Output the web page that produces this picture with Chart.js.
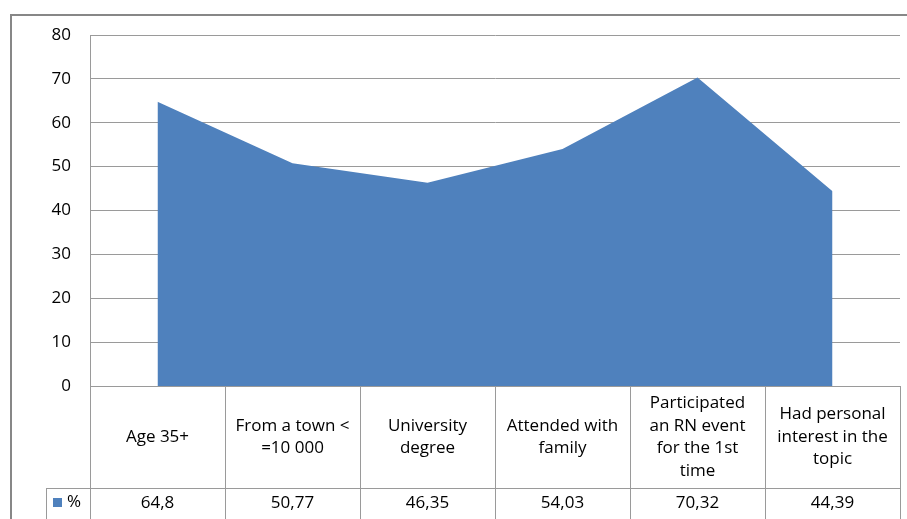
<!DOCTYPE html>
<html lang="en">

<head>
    <meta charset="UTF-8">
    <title>Visitor profile</title>
    <style>
        body {
            margin: 0;
            background: #fff;
        }
    </style>
    <script src="https://cdn.jsdelivr.net/npm/chart.js"></script>
</head>

<body>
    <canvas id="chart" width="907" height="519"></canvas>
</body>
<script>
    // chart data
    const categories = [
        ["Age 35+"],
        ["From a town <", "=10 000"],
        ["University", "degree"],
        ["Attended with", "family"],
        ["Participated", "an RN event", "for the 1st", "time"],
        ["Had personal", "interest in the", "topic"]
    ];
    const seriesName = "%";
    const values = [64.8, 50.77, 46.35, 54.03, 70.32, 44.39];
    const yTicks = [0, 10, 20, 30, 40, 50, 60, 70, 80];

    const FONT = "17px 'Open Sans'";
    const BLUE = "#4F81BD";
    const LINE = "#9a9a9a";

    // frame + data table under the plot
    const tablePlugin = {
        id: "dataTable",
        beforeDraw(chart) {
            const c = chart.ctx;
            c.save();
            c.strokeStyle = "#878787";
            c.lineWidth = 2;
            c.beginPath();
            c.moveTo(11, 519);
            c.lineTo(11, 15);
            c.lineTo(907, 15);
            c.stroke();
            c.restore();
        },
        afterDraw(chart) {
            const c = chart.ctx;
            const xs = chart.scales.x;
            const area = chart.chartArea;
            const half = (xs.getPixelForValue(1) - xs.getPixelForValue(0)) / 2;
            const top = area.bottom;
            const rowY = top + 102;
            const bottom = chart.height;

            c.save();
            c.strokeStyle = LINE;
            c.lineWidth = 1;
            c.beginPath();
            // horizontal lines
            c.moveTo(area.left, top + 0.5);
            c.lineTo(area.right, top + 0.5);
            c.moveTo(46, rowY + 0.5);
            c.lineTo(area.right, rowY + 0.5);
            // legend cell left edge
            c.moveTo(46.5, rowY);
            c.lineTo(46.5, bottom);
            // column lines
            for (let i = 0; i <= categories.length; i++) {
                const x = Math.round(xs.getPixelForValue(0) - half + i * 2 * half) + 0.5;
                c.moveTo(x, top);
                c.lineTo(x, bottom);
            }
            c.stroke();

            c.fillStyle = "#000";
            c.font = FONT;
            c.textAlign = "center";
            c.textBaseline = "middle";
            const lh = 22.5;
            const mid = (top + rowY) / 2;
            categories.forEach((lines, i) => {
                const x = xs.getPixelForValue(i);
                const y0 = mid - (lines.length - 1) * lh / 2;
                lines.forEach((t, j) => c.fillText(t, x, y0 + j * lh));
                c.fillText(String(values[i]).replace(".", ","), x, rowY + 15);
            });

            // legend key
            c.fillStyle = BLUE;
            c.fillRect(53, rowY + 10, 9, 9);
            c.fillStyle = "#000";
            c.textAlign = "left";
            c.fillText(seriesName, 67, rowY + 14);
            c.restore();
        }
    };

    const ctx = document.getElementById("chart");

    const chart = new Chart(ctx, {
        type: "line",
        data: {
            labels: categories.map(l => l.join(" ")),
            datasets: [{
                label: seriesName,
                data: values,
                fill: "origin",
                backgroundColor: BLUE,
                borderWidth: 0,
                pointRadius: 0,
                tension: 0
            }]
        },
        options: {
            responsive: false,
            animation: false,
            layout: {
                padding: { left: 0, right: 7, top: 35, bottom: 133 }
            },
            plugins: {
                legend: { display: false },
                tooltip: { enabled: false }
            },
            scales: {
                x: {
                    display: false,
                    offset: true
                },
                y: {
                    min: 0,
                    max: 80,
                    afterBuildTicks: s => { s.ticks = yTicks.map(v => ({ value: v })); },
                    afterFit: s => { s.width = 90; },
                    grid: {
                        color: LINE,
                        drawTicks: false
                    },
                    border: {
                        display: true,
                        color: LINE
                    },
                    ticks: {
                        padding: 19,
                        color: "#000",
                        font: { family: "'Open Sans'", size: 17 }
                    }
                }
            }
        },
        plugins: [tablePlugin]
    });
</script>

</html>
